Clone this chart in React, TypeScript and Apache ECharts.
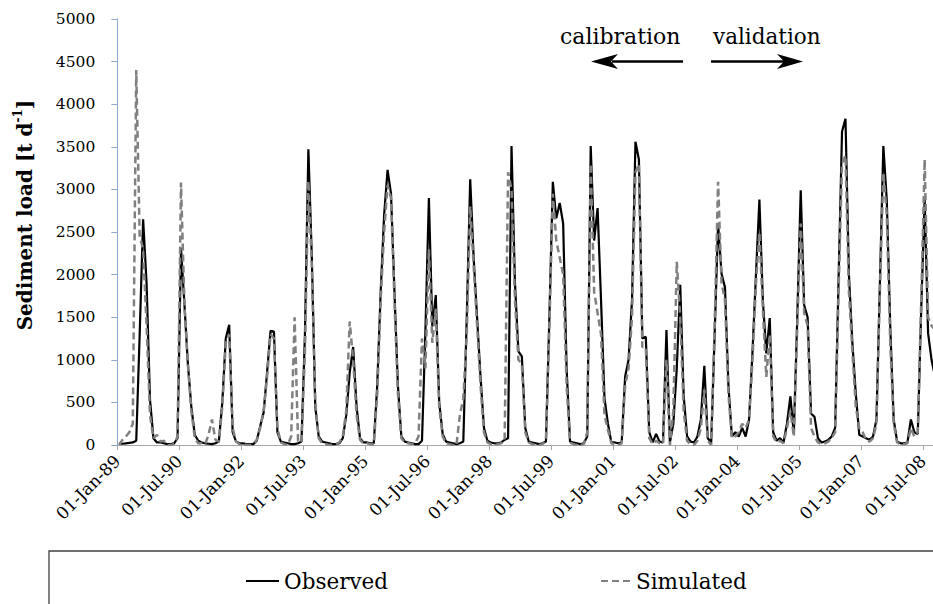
import React, { useEffect, useRef } from 'react';
import * as echarts from 'echarts';

const tickLabels = [
  '01-Jan-89', '01-Jul-90', '01-Jan-92', '01-Jul-93', '01-Jan-95', '01-Jul-96', '01-Jan-98',
  '01-Jul-99', '01-Jan-01', '01-Jul-02', '01-Jan-04', '01-Jul-05', '01-Jan-07', '01-Jul-08',
];

// monthly values, Jan-1989 ... Oct-2008 (plotted at mid-month)
const observed = [
  20, 15, 20, 25, 30, 50, 1300, 2650, 1900, 530, 80, 30, // 1989
  30, 20, 10, 10, 20, 80, 2310, 1650, 950, 450, 120, 50, // 1990
  30, 20, 15, 10, 20, 40, 500, 1250, 1410, 150, 40, 20, // 1991
  20, 10, 10, 10, 50, 220, 380, 850, 1340, 1330, 150, 40, // 1992
  30, 20, 10, 10, 20, 40, 1300, 3470, 2200, 450, 100, 40, // 1993
  30, 20, 10, 10, 20, 80, 350, 850, 1150, 450, 80, 30, // 1994
  30, 20, 20, 700, 1800, 2700, 3230, 2950, 1800, 700, 100, 40, // 1995
  30, 20, 10, 10, 50, 1350, 2900, 1390, 1760, 500, 130, 40, // 1996
  30, 20, 10, 20, 40, 1500, 3120, 2200, 1500, 800, 200, 50, // 1997
  30, 20, 20, 30, 60, 80, 3510, 1900, 1100, 1040, 200, 40, // 1998
  30, 20, 10, 20, 40, 1500, 3090, 2660, 2840, 2600, 900, 40, // 1999
  30, 20, 10, 20, 100, 3510, 2400, 2780, 1700, 550, 250, 30, // 2000
  30, 20, 30, 800, 1000, 1700, 3560, 3350, 1250, 1270, 150, 30, // 2001
  130, 40, 30, 1350, 30, 250, 900, 1880, 580, 100, 40, 30, // 2002
  100, 300, 930, 80, 30, 1300, 2600, 2010, 1850, 700, 100, 150, // 2003
  100, 200, 100, 300, 1100, 2000, 2880, 1700, 1075, 1490, 150, 50, // 2004
  80, 30, 250, 570, 130, 1500, 2990, 1640, 1500, 370, 330, 80, // 2005
  30, 40, 60, 100, 200, 1950, 3680, 3830, 2000, 1200, 600, 120, // 2006
  100, 80, 60, 100, 300, 1900, 3510, 2870, 1400, 300, 40, 20, // 2007
  20, 30, 300, 150, 130, 1600, 2880, 1310, 1000, 800, // 2008
];

const simulated = [
  0, 60, 100, 150, 250, 4400, 2450, 2300, 1400, 350, 80, 120, // 1989
  40, 50, 0, 0, 10, 100, 3080, 1650, 950, 400, 80, 20, // 1990
  20, 10, 120, 300, 60, 40, 450, 1200, 1300, 200, 40, 10, // 1991
  10, 0, 0, 10, 60, 200, 400, 800, 1300, 1250, 200, 30, // 1992
  10, 0, 100, 1500, 50, 30, 1100, 3100, 2100, 500, 80, 20, // 1993
  10, 0, 0, 10, 30, 100, 400, 1450, 1000, 350, 60, 20, // 1994
  20, 10, 10, 600, 1700, 2500, 3050, 2900, 1700, 600, 80, 30, // 1995
  20, 10, 20, 100, 1250, 900, 2300, 1200, 1600, 450, 100, 20, // 1996
  10, 0, 0, 350, 550, 1300, 2800, 2100, 1400, 700, 150, 30, // 1997
  10, 0, 10, 20, 50, 3200, 3000, 1700, 1000, 950, 150, 30, // 1998
  10, 0, 0, 10, 50, 1400, 2950, 2400, 2200, 2000, 700, 30, // 1999
  10, 0, 0, 10, 150, 3300, 1800, 1550, 1300, 350, 180, 20, // 2000
  10, 0, 20, 700, 900, 1500, 3200, 3300, 1150, 1150, 80, 10, // 2001
  50, 20, 10, 1000, 0, 400, 2150, 1500, 400, 50, 10, 0, // 2002
  50, 200, 650, 50, 0, 1400, 3090, 1900, 1700, 600, 80, 100, // 2003
  150, 250, 200, 300, 1000, 1900, 2500, 1600, 800, 1300, 100, 30, // 2004
  50, 20, 200, 400, 100, 1400, 2600, 1550, 1400, 200, 100, 30, // 2005
  10, 20, 40, 80, 150, 1800, 3300, 3400, 1800, 1100, 450, 200, // 2006
  150, 60, 40, 80, 250, 1800, 3200, 2700, 1200, 250, 30, 10, // 2007
  10, 20, 200, 100, 150, 1700, 3350, 1500, 1400, 1350, // 2008
];

const SERIF = 'DejaVu Serif';

export default function App() {
  const ref = useRef<HTMLDivElement>(null);
  useEffect(() => {
    const chart = echarts.init(ref.current as HTMLDivElement, null, { renderer: 'svg' });
    const obsData = observed.map((v, i) => [i + 0.5, v]);
    const simData = simulated.map((v, i) => [i + 0.5, v]);
    const legendText = { fontSize: 21.5, fontFamily: SERIF, color: '#000' };
    chart.setOption({
      animation: false,
      backgroundColor: '#fff',
      textStyle: { fontFamily: SERIF },
      grid: { left: 117.3, right: -10.6, top: 19, bottom: 159, outerBoundsMode: 'none', containLabel: false },
      xAxis: {
        type: 'value',
        min: 0,
        max: 240,
        interval: 18,
        splitLine: { show: false },
        axisLine: { show: true, onZero: false, lineStyle: { color: '#a6a6a6', width: 1 } },
        axisTick: { show: true, length: 5, lineStyle: { color: '#a6a6a6' } },
        axisLabel: {
          rotate: 45,
          fontSize: 17,
          fontFamily: SERIF,
          color: '#000',
          margin: 13,
          showMinLabel: true,
          showMaxLabel: false,
          formatter: (v: number) => {
            const k = Math.round(v / 18);
            return Math.abs(v - k * 18) < 1e-6 && k < tickLabels.length ? tickLabels[k] : '';
          },
        },
      },
      yAxis: {
        type: 'value',
        min: 0,
        max: 5000,
        interval: 500,
        splitLine: { show: false },
        axisLine: { show: true, onZero: false, lineStyle: { color: '#8eaad4', width: 1 } },
        axisTick: { show: true, length: 6, lineStyle: { color: '#8eaad4' } },
        axisLabel: {
          fontSize: 15.5,
          fontFamily: SERIF,
          color: '#000',
          margin: 22,
          formatter: (v: number) => String(v),
        },
      },
      legend: [
        {
          data: ['Observed'],
          left: 240,
          top: 565,
          itemWidth: 33,
          itemHeight: 14,
          itemStyle: { opacity: 0 },
          textStyle: legendText,
        },
        {
          data: ['Simulated'],
          left: 595,
          top: 565,
          itemWidth: 30,
          itemHeight: 14,
          itemStyle: { opacity: 0 },
          textStyle: legendText,
        },
      ],
      series: [
        {
          name: 'Observed',
          type: 'line',
          data: obsData,
          symbol: 'none',
          lineStyle: { color: '#000', width: 2.2 },
          itemStyle: { color: '#000' },
          z: 2,
        },
        {
          name: 'Simulated',
          type: 'line',
          data: simData,
          symbol: 'none',
          lineStyle: { color: '#808080', width: 2.5, type: [7, 4] },
          itemStyle: { color: '#808080' },
          z: 3,
        },
      ],
      graphic: [
        {
          type: 'rect',
          z: -10,
          shape: { x: 49, y: 551, width: 1000, height: 100 },
          style: { fill: 'none', stroke: '#404040', lineWidth: 1.3 },
        },
        {
          type: 'text',
          x: 25,
          y: 215,
          rotation: Math.PI / 2,
          style: {
            text: '{a|Sediment load [t d}{b|-1}{a|]}',
            align: 'center',
            verticalAlign: 'middle',
            rich: {
              a: { fontSize: 20, fontWeight: 'bold', fontFamily: SERIF, fill: '#000', lineHeight: 26 },
              b: { fontSize: 12, fontWeight: 'bold', fontFamily: SERIF, fill: '#000', lineHeight: 13, verticalAlign: 'top' },
            },
          },
        },
        {
          type: 'text',
          x: 560,
          y: 36,
          style: { text: 'calibration', fontSize: 22, fontFamily: SERIF, fill: '#000', align: 'left', verticalAlign: 'middle' },
        },
        {
          type: 'text',
          x: 713,
          y: 36,
          style: { text: 'validation', fontSize: 21.5, fontFamily: SERIF, fill: '#000', align: 'left', verticalAlign: 'middle' },
        },
        {
          type: 'line',
          shape: { x1: 612, y1: 61.5, x2: 683, y2: 61.5 },
          style: { stroke: '#000', lineWidth: 2.6 },
        },
        {
          type: 'polygon',
          shape: { points: [[591, 61.5], [618, 54], [611, 61.5], [618, 69]] },
          style: { fill: '#000' },
        },
        {
          type: 'line',
          shape: { x1: 711, y1: 61.5, x2: 785, y2: 61.5 },
          style: { stroke: '#000', lineWidth: 2.6 },
        },
        {
          type: 'polygon',
          shape: { points: [[803, 61.5], [777, 54], [784, 61.5], [777, 69]] },
          style: { fill: '#000' },
        },
      ],
    });
    return () => chart.dispose();
  }, []);
  return <div ref={ref} style={{ position: 'fixed', left: 0, top: 0, width: 933, height: 604 }} />;
}
